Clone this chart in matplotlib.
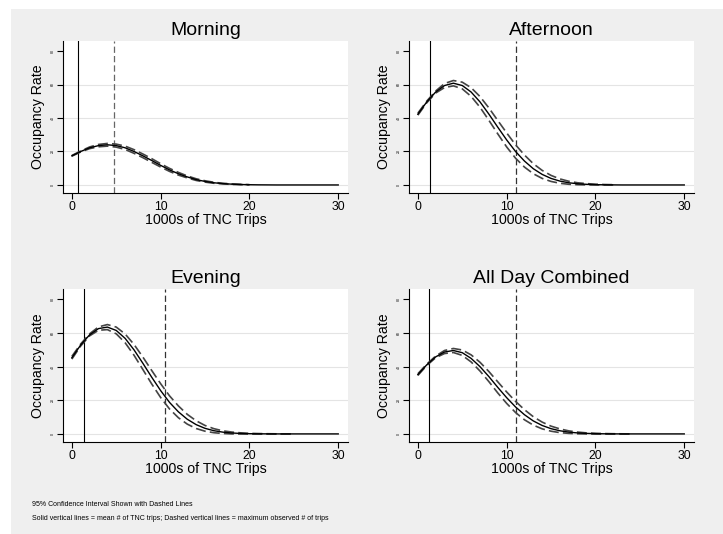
import numpy as np
import matplotlib.pyplot as plt
from matplotlib.patches import Rectangle

plt.rcParams['font.family'] = ['Liberation Sans', 'DejaVu Sans']

# 1000s of TNC trips (x grid for the fitted curves)
trips = list(range(0, 31))

titles = ['Morning', 'Afternoon', 'Evening', 'All Day Combined']

# fitted occupancy rate (mean), x = 0..30
morning_mean = [17.4, 20.0, 22.2, 23.5, 24.0, 23.5, 22.2, 20.0, 17.4, 14.6, 11.7, 9.0, 6.7, 4.8, 3.2, 2.1,
                1.3, 0.82, 0.48, 0.27, 0.14, 0.07, 0.04, 0, 0, 0, 0, 0, 0, 0, 0]
afternoon_mean = [42.3, 49.6, 55.5, 59.4, 60.8, 59.4, 55.5, 49.6, 42.3, 34.5, 26.9, 20.0, 14.3, 9.7, 6.3, 3.9,
                  2.3, 1.3, 0.72, 0.38, 0.19, 0.09, 0.04, 0, 0, 0, 0, 0, 0, 0, 0]
evening_mean = [45.2, 52.8, 58.8, 62.5, 63.4, 61.4, 56.7, 49.9, 41.9, 33.6, 25.7, 18.7, 13.1, 8.7, 5.5, 3.3,
                1.9, 1.05, 0.55, 0.28, 0.13, 0.06, 0.03, 0, 0, 0, 0, 0, 0, 0, 0]
allday_mean = [35.2, 41.0, 45.7, 48.6, 49.5, 48.2, 44.8, 39.9, 34.0, 27.6, 21.5, 16.0, 11.4, 7.7, 5.0, 3.1,
               1.86, 1.05, 0.57, 0.30, 0.15, 0.07, 0.03, 0, 0, 0, 0, 0, 0, 0, 0]

# 95% confidence bands (dashed lines stop where they disappear in the picture)
morning_hi = [17.6, 20.3, 22.7, 24.2, 24.8, 24.4, 23.2, 21.1, 18.5, 15.7, 12.7, 9.9, 7.5, 5.4, 3.7, 2.5,
              1.6, 1.0, 0.63, 0.37, 0.19]
morning_lo = [17.2, 19.7, 21.7, 22.8, 23.2, 22.6, 21.2, 18.9, 16.3, 13.5, 10.7, 8.1, 5.9, 4.2, 2.7, 1.7,
              1.0, 0.62, 0.33, 0.17, 0.09]
afternoon_hi = [42.9, 50.1, 56.1, 60.6, 62.4, 61.4, 58.1, 52.8, 46.0, 38.5, 31.1, 24.0, 17.9, 12.7, 8.7, 5.7,
                3.6, 2.2, 1.3, 0.8, 0.45, 0.25, 0.15]
afternoon_lo = [41.7, 49.1, 54.9, 58.2, 59.2, 57.4, 52.9, 46.4, 38.6, 30.5, 22.7, 16.0, 10.7, 6.7, 3.9, 2.1,
                1.0, 0.4, 0.15, 0.05, 0, 0, 0]
evening_hi = [46.0, 53.4, 59.4, 63.5, 64.9, 63.4, 59.3, 53.1, 45.6, 37.6, 29.8, 22.6, 16.6, 11.6, 7.8, 5.0,
              3.1, 1.85, 1.1, 0.63, 0.33, 0.2, 0.1, 0.05, 0.02, 0]
evening_lo = [44.4, 52.2, 58.2, 61.5, 61.9, 59.4, 54.1, 46.7, 38.2, 29.6, 21.6, 14.8, 9.6, 5.8, 3.2, 1.6,
              0.7, 0.25, 0.0, -0.07, -0.1, -0.1, -0.1, -0.1, -0.08, -0.05]
allday_hi = [35.7, 41.4, 46.2, 49.5, 50.7, 49.8, 46.9, 42.5, 37.0, 30.9, 24.9, 19.3, 14.4, 10.2, 7.0, 4.6,
             2.96, 1.8, 1.07, 0.6, 0.35, 0.2, 0.1, 0.05, 0.02]
allday_lo = [34.7, 40.6, 45.2, 47.7, 48.3, 46.6, 42.7, 37.3, 31.0, 24.3, 18.1, 12.7, 8.4, 5.2, 3.0, 1.6,
             0.76, 0.3, 0.07, -0.05, -0.1, -0.1, -0.1, -0.1, -0.1]

# mean and maximum observed # of trips (1000s)
mean_trips = [0.68, 1.31, 1.35, 1.2]
max_trips = [4.8, 11.0, 10.5, 11.0]

means = [morning_mean, afternoon_mean, evening_mean, allday_mean]
his = [morning_hi, afternoon_hi, evening_hi, allday_hi]
los = [morning_lo, afternoon_lo, evening_lo, allday_lo]

fig = plt.figure(figsize=(7.23, 5.34), dpi=100, facecolor='white')
# stata-style light grey graph region
fig.patches.append(Rectangle((11 / 723, -0.01), 1.0, 1.01 - 9 / 534, transform=fig.transFigure,
                             facecolor='#efefef', edgecolor='none', zorder=-10))

# axes boxes [left, bottom, width, height] in figure fractions
boxes = [[0.0871, 0.6386, 0.3942, 0.2846],
         [0.5657, 0.6386, 0.3942, 0.2846],
         [0.0871, 0.1723, 0.3942, 0.2865],
         [0.5657, 0.1723, 0.3942, 0.2865]]

for i in range(4):
    ax = fig.add_axes(boxes[i])
    ax.set_facecolor('white')
    for yg in [0, 20, 40, 60]:
        ax.axhline(yg, color='#e4e4e4', lw=0.8, zorder=0)
    ax.axvline(mean_trips[i], color='black', lw=0.8)
    ax.axvline(max_trips[i], color='#333333' if i else '#666666', lw=0.9, dashes=(5, 2.5))
    n = len(his[i])
    ax.plot(trips[:n], his[i], color='#444444', lw=1.2, dashes=(6, 2.5))
    ax.plot(trips[:n], los[i], color='#444444', lw=1.2, dashes=(6, 2.5))
    ax.plot(trips, means[i], color='black', lw=1.0)

    ax.set_xlim(-1.0, 31.1)
    ax.set_ylim(-4.8, 86)
    ax.set_xticks([0, 10, 20, 30])
    ax.set_yticks([0, 20, 40, 60, 80])
    ax.tick_params(axis='x', labelsize=8.8, length=4, width=0.8, pad=2)
    ax.tick_params(axis='y', labelsize=2.5, length=4, width=0.8, pad=2, labelrotation=90)
    for lab in ax.get_yticklabels():
        lab.set_va('center')
    for s in ['top', 'right']:
        ax.spines[s].set_visible(False)
    ax.spines['left'].set_linewidth(0.8)
    ax.spines['bottom'].set_linewidth(0.8)
    ax.set_xlabel('1000s of TNC Trips', fontsize=10.2, labelpad=0)
    ax.set_ylabel('Occupancy Rate', fontsize=10.2, labelpad=4)
    ax.set_title(titles[i], fontsize=14, pad=4)

fig.text(32 / 723, 1 - 505 / 534, '95% Confidence Interval Shown with Dashed Lines', fontsize=5.0, va='center')
fig.text(32 / 723, 1 - 518 / 534,
         'Solid vertical lines = mean # of TNC trips; Dashed vertical lines = maximum observed # of trips',
         fontsize=5.0, va='center')

fig.savefig('out.png', dpi=100, facecolor=fig.get_facecolor())
